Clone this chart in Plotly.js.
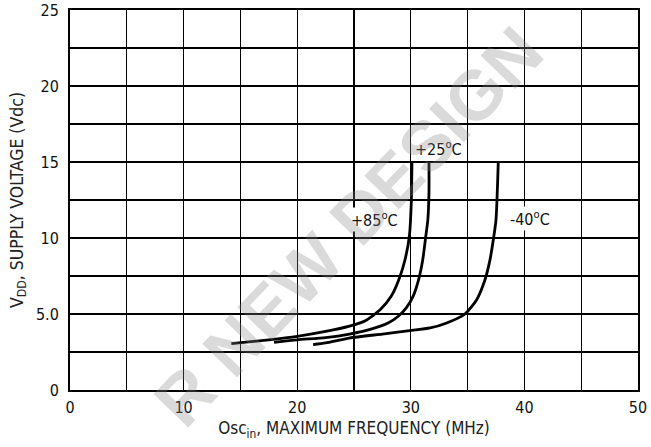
<!DOCTYPE html>
<html>
<head>
<meta charset="utf-8">
<script src="https://cdn.plot.ly/plotly-3.0.1.min.js"></script>
<style>html,body{margin:0;padding:0;background:#fff;}#chart{width:651px;height:447px;}</style>
</head>
<body>
<div id="chart"></div>
<script>
// Curves: Vdd (y) vs maximum frequency (x)
const x85 = [14.2, 17.5, 20, 22.5, 24.6, 26, 27.3, 28.3, 29.05, 29.5, 29.87, 30.05, 30.1];
const y85 = [3.05, 3.3, 3.53, 3.85, 4.2, 4.56, 5.28, 6.2, 7.47, 8.6, 10.1, 12.5, 15];
const x25 = [17.96, 20, 22.5, 24.6, 26.5, 28, 28.9, 29.6, 30.2, 30.7, 31.05, 31.3, 31.5, 31.6, 31.6];
const y25 = [3.14, 3.3, 3.45, 3.68, 4.0, 4.4, 4.85, 5.4, 6.16, 7.3, 8.56, 10, 11.2, 13, 15];
const xm40 = [21.4, 22.5, 24.6, 27.5, 29.9, 31.7, 33.16, 34.77, 35.8, 36.53, 36.97, 37.26, 37.5, 37.7];
const ym40 = [2.99, 3.1, 3.42, 3.68, 3.9, 4.08, 4.41, 5.0, 5.94, 7.25, 8.56, 9.87, 11.2, 15];

const curveNames = ["+85<sup>o</sup>C", "+25<sup>o</sup>C", "-40<sup>o</sup>C"];
const labelX = [26.8, 32.4, 40.5];
const labelY = [11.2, 15.9, 11.3];

const xTickVals = [0, 10, 20, 30, 40, 50];
const xTickText = ["0", "10", "20", "30", "40", "50"];
const yTickVals = [0, 5, 10, 15, 20, 25];
const yTickText = ["0", "5.0", "10", "15", "20", "25"];

const FONT = "'DejaVu Sans Condensed', 'Liberation Sans Narrow', 'Arial Narrow', sans-serif";

const series = [[x85, y85], [x25, y25], [xm40, ym40]];
const traces = series.map((s, i) => ({
  x: s[0], y: s[1], type: "scatter", mode: "lines",
  line: {color: "#000", width: 2.8, shape: "spline", smoothing: 0.6},
  name: curveNames[i], hoverinfo: "skip"
}));

const annotations = curveNames.map((t, i) => ({
  x: labelX[i], y: labelY[i], xref: "x", yref: "y", text: t, showarrow: false,
  font: {family: FONT, size: 16, color: "#111"}, bgcolor: "#fff", borderpad: 1
}));
annotations.push({
  xref: "paper", yref: "paper", x: 0.49, y: 0.43, text: "<b>R NEW DESIGN</b>",
  showarrow: false, textangle: -46, opacity: 0.3,
  font: {family: "'Liberation Sans', Arial, sans-serif", size: 70, color: "#888"}
});

const gridStyle = {showgrid: true, gridcolor: "#000", gridwidth: 1.3};

const layout = {
  width: 651, height: 447,
  margin: {l: 70, r: 13, t: 10, b: 57},
  paper_bgcolor: "#fff", plot_bgcolor: "#fff",
  showlegend: false,
  font: {family: FONT, size: 16, color: "#111"},
  xaxis: Object.assign({
    range: [0, 50], tickmode: "array", tickvals: xTickVals, ticktext: xTickText,
    zeroline: false,
    showline: true, linecolor: "#000", linewidth: 2, mirror: true,
    ticks: "", ticklabelstandoff: 2,
    minor: {tick0: 0, dtick: 5, showgrid: true, gridcolor: "#000", gridwidth: 1.3, ticks: ""},
    title: {text: "Osc<sub>in</sub>, MAXIMUM FREQUENCY (MHz)", font: {family: FONT, size: 17, color: "#222"}, standoff: 6},
    fixedrange: true
  }, gridStyle),
  yaxis: Object.assign({
    range: [0, 25], tickmode: "array", tickvals: yTickVals, ticktext: yTickText,
    zeroline: false,
    showline: true, linecolor: "#000", linewidth: 2, mirror: true,
    ticks: "", ticklabelstandoff: 6,
    minor: {tick0: 0, dtick: 2.5, showgrid: true, gridcolor: "#000", gridwidth: 1.3, ticks: ""},
    title: {text: "V<sub>DD</sub>, SUPPLY VOLTAGE (Vdc)", font: {family: FONT, size: 17.5, color: "#222"}, standoff: 8},
    fixedrange: true
  }, gridStyle),
  annotations: annotations
};

Plotly.newPlot("chart", traces, layout, {displayModeBar: false, staticPlot: true});
</script>
</body>
</html>
